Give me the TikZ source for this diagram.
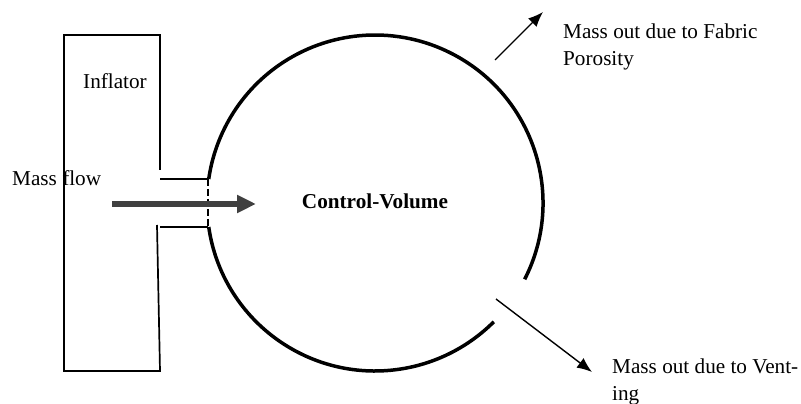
\documentclass[tikz,border=0pt]{standalone}
\usepackage{fontspec}
\setmainfont{Liberation Serif}
\usetikzlibrary{arrows.meta}

\begin{document}
\begin{tikzpicture}[x=1pt,y=1pt,
  every node/.style={inner sep=0pt,font=\fontsize{21.2}{27}\selectfont},
  lbl/.style={anchor=base west,align=left},
  wall/.style={line width=3.5pt},
  casing/.style={line width=1.7pt},
  nozzle/.style={line width=1.3pt},
  massout/.style={line width=1.4pt,-{Latex[length=15pt,width=12pt]}},
  inflow/.style={line width=6pt,draw=black!75,-{Triangle[length=19pt,width=17pt]}}]
  \useasboundingbox (0,0) rectangle (801,404);

  % inflator housing
  \draw[casing] (160,234) -- (160,369) -- (64,369) -- (64,33) -- (160,33) -- (157,179);
  \coordinate (nzA) at (160,225);
  \coordinate (nzB) at (208,225);
  \coordinate (nzC) at (160,177);
  \coordinate (nzD) at (208,177);
  \draw[nozzle] (nzA) -- (nzB);
  \draw[nozzle] (nzC) -- (nzD);

  % control volume
  \coordinate (cv) at (375,201);
  \draw[wall] ([shift={(-27:168)}]cv) arc[start angle=-27,end angle=171.8,radius=168];
  \draw[wall] ([shift={(188.2:168)}]cv) arc[start angle=188.2,end angle=315,radius=168];
  \draw[line width=2pt,dash pattern=on 7pt off 3pt] (nzB) -- (nzD);

  \node[lbl]                          (inflator) at (83,315)  {Inflator};
  \node[lbl]                          (flow)     at (12,218)  {Mass flow};
  \node[anchor=base,font=\fontsize{21.2}{27}\selectfont\bfseries] (cvlabel) at (375,195) {Control-Volume};
  \node[lbl]                          (fabric)   at (563,338) {Mass out due to Fabric\\Porosity};
  \node[lbl]                          (vent)     at (612,3)   {Mass out due to Vent-\\ing};

  % flows
  \coordinate (jetS)  at (112,200);
  \coordinate (jetE)  at (256,200);
  \coordinate (poroS) at (495,344);
  \coordinate (poroE) at (543,392);
  \coordinate (ventS) at (496,105);
  \coordinate (ventE) at (592,32);
  \draw[inflow]  (jetS)  -- (jetE);
  \draw[massout] (poroS) -- (poroE);
  \draw[massout] (ventS) -- (ventE);
\end{tikzpicture}
\end{document}
